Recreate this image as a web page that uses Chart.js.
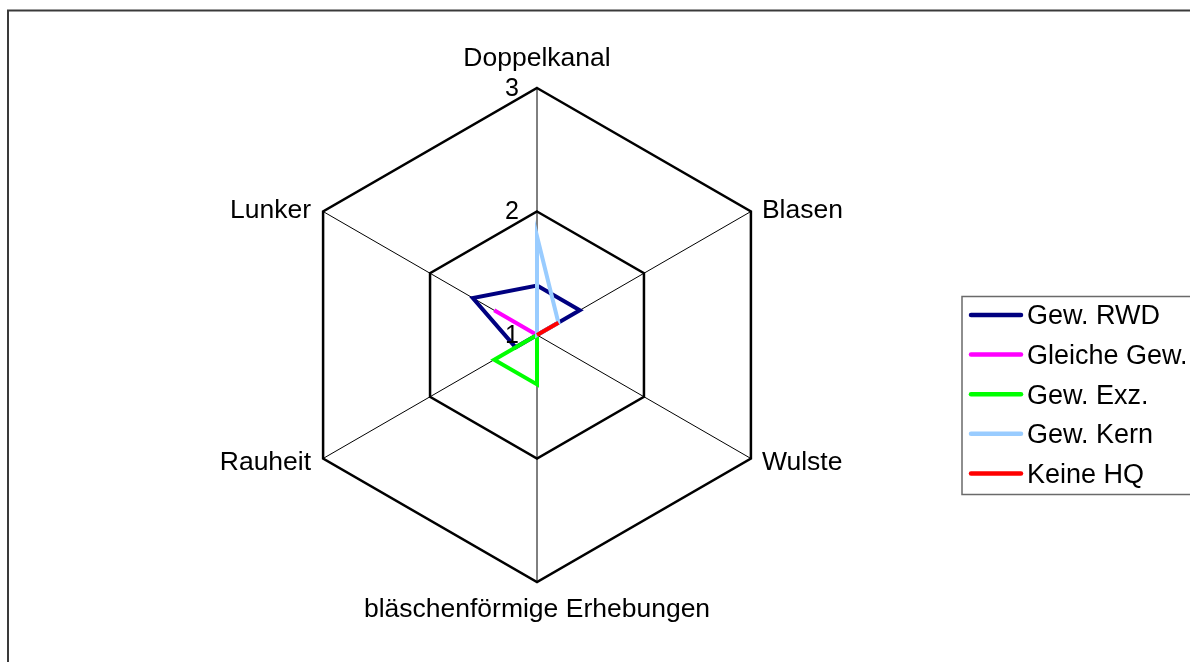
<!DOCTYPE html>
<html><head><meta charset="utf-8">
<script src="https://cdn.jsdelivr.net/npm/chart.js@4.4.0/dist/chart.umd.min.js"></script>
<style>html,body{margin:0;padding:0;background:#fff;overflow:hidden}canvas{display:block}</style>
</head><body>
<canvas id="c" width="1190" height="662"></canvas>
<script>
const categories = ['Doppelkanal', 'Blasen', 'Wulste', 'bläschenförmige Erhebungen', 'Rauheit', 'Lunker'];
const seriesNames = ['Gew. RWD', 'Gleiche Gew.', 'Gew. Exz.', 'Gew. Kern', 'Keine HQ'];
const gewRWD     = [1.4, 1.4, 1.0, 1.0, 1.2, 1.6];
const gleicheGew = [1.0, 1.0, 1.0, 1.0, 1.0, 1.4];
const gewExz     = [1.0, 1.0, 1.0, 1.4, 1.4, 1.0];
const gewKern    = [1.8, 1.2, 1.0, 1.0, 1.0, 1.0];
const keineHQ    = [1.0, 1.2, 1.0, 1.0, 1.0, 1.0];
const tickValues = [1, 2, 3];
const seriesColors = ['#000080', '#FF00FF', '#00FF00', '#99CCFF', '#FF0000'];
const seriesValues = [gewRWD, gleicheGew, gewExz, gewKern, keineHQ];

const FONT = 'Liberation Sans, Arial, sans-serif';

const framePlugin = {
  id: 'frame',
  beforeDraw(chart) {
    const ctx = chart.ctx;
    ctx.save();
    ctx.fillStyle = '#fff';
    ctx.fillRect(0, 0, chart.width, chart.height);
    ctx.strokeStyle = '#3a3a3a';
    ctx.lineWidth = 2;
    ctx.strokeRect(8, 10.5, 2000, 2000);
    ctx.restore();
  }
};

const labelPlugin = {
  id: 'labels',
  afterDraw(chart) {
    const ctx = chart.ctx;
    const s = chart.scales.r;
    const R = s.drawingArea;
    ctx.save();
    ctx.fillStyle = '#000';
    ctx.textBaseline = 'middle';
    // category labels
    ctx.font = '26.5px ' + FONT;
    chart.data.labels.forEach((lab, i) => {
      const p = s.getPointPosition(i, R);
      let x = p.x, y = p.y;
      if (i === 0) { ctx.textAlign = 'center'; y -= 29; }
      else if (i === 3) { ctx.textAlign = 'center'; y += 28; }
      else if (i === 1) { ctx.textAlign = 'left'; x += 11; y -= 1; }
      else if (i === 2) { ctx.textAlign = 'left'; x += 11; y += 4; }
      else if (i === 4) { ctx.textAlign = 'right'; x -= 12; y += 4; }
      else { ctx.textAlign = 'right'; x -= 12; y -= 1; }
      ctx.fillText(lab, x, y);
    });
    // tick labels
    ctx.font = '25px ' + FONT;
    ctx.textAlign = 'right';
    tickValues.forEach(v => {
      const d = s.getDistanceFromCenterForValue(v);
      ctx.fillText(String(v), s.xCenter - 18, s.yCenter - d + 1);
    });
    // legend
    const lx = 962, ly = 296.5, lw = 240, lh = 198;
    ctx.strokeStyle = '#6a6a6a';
    ctx.lineWidth = 1.5;
    ctx.strokeRect(lx, ly, lw, lh);
    ctx.font = '27px ' + FONT;
    ctx.textAlign = 'left';
    chart.data.datasets.forEach((ds, i) => {
      const y = 315 + i * 39.6;
      ctx.strokeStyle = ds.borderColor;
      ctx.lineWidth = 4.5;
      ctx.lineCap = 'round';
      ctx.beginPath();
      ctx.moveTo(971, y);
      ctx.lineTo(1021, y);
      ctx.stroke();
      ctx.fillStyle = '#000';
      ctx.fillText(ds.label, 1027, y + 2);
    });
    ctx.restore();
  }
};

const datasets = seriesNames.map((name, i) => ({
  label: name,
  data: seriesValues[i],
  borderColor: seriesColors[i],
  backgroundColor: seriesColors[i],
  borderWidth: 4,
  fill: false,
  pointRadius: 0,
  pointHoverRadius: 0,
  tension: 0,
  order: seriesNames.length - i
}));

new Chart(document.getElementById('c'), {
  type: 'radar',
  data: { labels: categories, datasets },
  options: {
    responsive: false,
    animation: false,
    layout: { padding: { left: 290, right: 406, top: 88, bottom: 80 } },
    plugins: { legend: { display: false }, tooltip: { enabled: false } },
    scales: {
      r: {
        min: 1, max: 3, beginAtZero: false,
        ticks: { display: false, stepSize: 1 },
        pointLabels: { display: false },
        grid: { color: '#000', lineWidth: 2.5 },
        angleLines: { color: '#000', lineWidth: 1 }
      }
    }
  },
  plugins: [framePlugin, labelPlugin]
});
</script>
</body></html>
